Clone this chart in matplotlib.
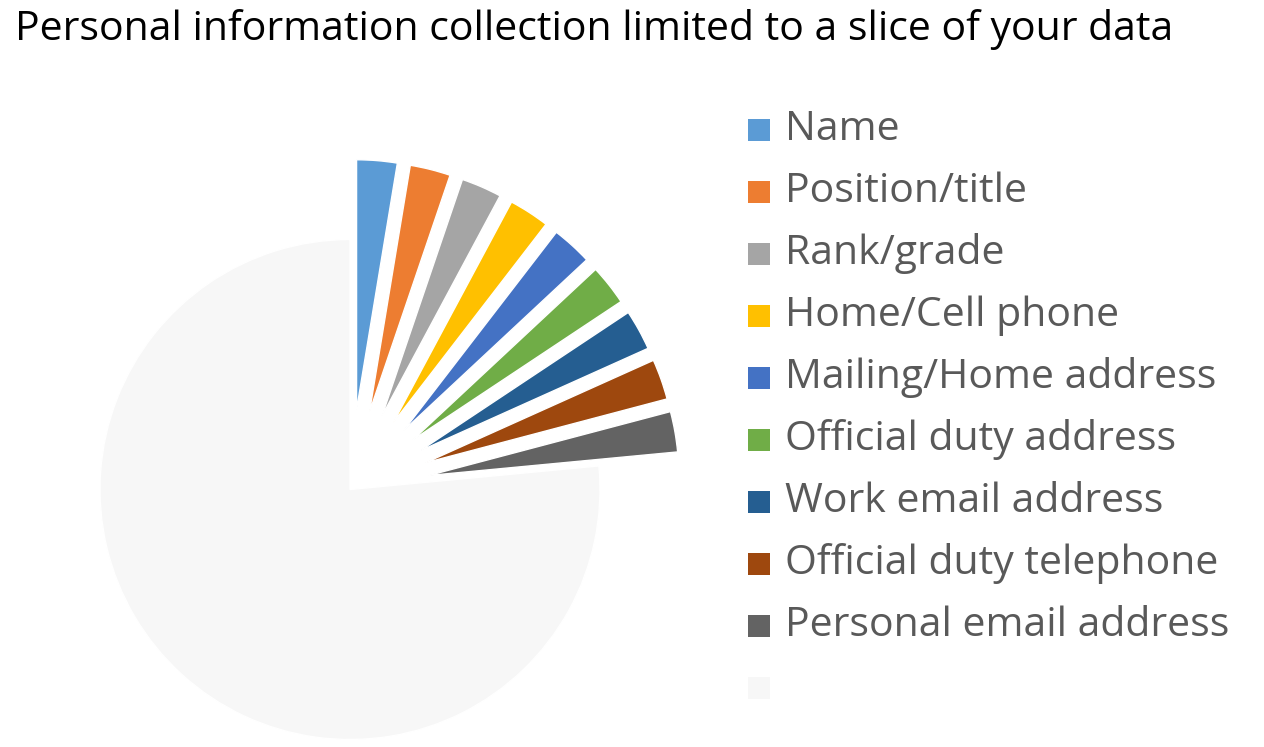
import matplotlib
matplotlib.use("Agg")
import matplotlib.pyplot as plt
from matplotlib.patches import Rectangle

labels = ["Name", "Position/title", "Rank/grade", "Home/Cell phone", "Mailing/Home address",
          "Official duty address", "Work email address", "Official duty telephone",
          "Personal email address", ""]
values = [1, 1, 1, 1, 1, 1, 1, 1, 1, 29.3]
colors = ["#5B9BD5", "#ED7D31", "#A5A5A5", "#FFC000", "#4472C4", "#70AD47",
          "#255E91", "#9E480E", "#636363", "#F7F7F7"]
explode = [0.32] * 9 + [0]

W, H = 1264, 747
fig = plt.figure(figsize=(W / 100, H / 100), dpi=100)
ax = fig.add_axes([0, 0, 750 / W, 732.5 / H])
ax.pie(values, colors=colors, explode=explode, startangle=90, counterclock=False,
       wedgeprops=dict(edgecolor="white", linewidth=1))
ax.set_xlim(-1.4, 1.6)
ax.set_ylim(-1.03, 1.9)
ax.set_aspect("equal")
ax.axis("off")

fig.text(15 / W, 1 - 30 / H, "Personal information collection limited to a slice of your data",
         fontsize=29.5, family="Open Sans", va="center", ha="left", color="black")

for i, (lab, c) in enumerate(zip(labels, colors)):
    yc = 130 + i * 62
    fig.patches.append(Rectangle((748 / W, 1 - (yc + 11) / H), 22 / W, 22 / H,
                                 transform=fig.transFigure, facecolor=c, edgecolor="none"))
    fig.text(785 / W, 1 - yc / H, lab, fontsize=29.5, family="Open Sans", va="center",
             ha="left", color="#595959")

fig.savefig("out.png", dpi=100)
